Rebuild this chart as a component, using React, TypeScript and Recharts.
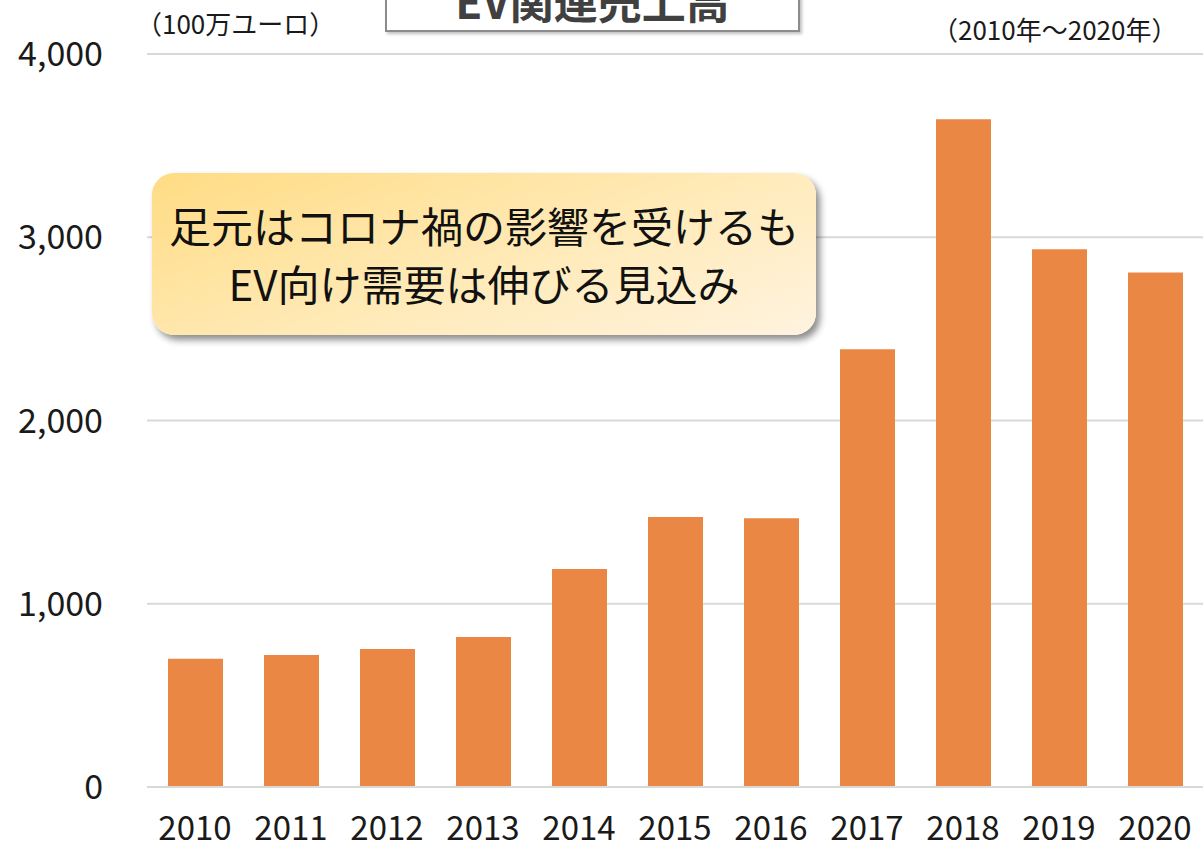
import { BarChart, Bar, XAxis, YAxis, CartesianGrid } from 'recharts';

const years = ['2010', '2011', '2012', '2013', '2014', '2015', '2016', '2017', '2018', '2019', '2020'];
const sales = [700, 720, 753, 818, 1189, 1473, 1467, 2389, 3644, 2935, 2808];
const yTicks = [0, 1000, 2000, 3000, 4000];

const FONT = '"Noto Sans CJK JP", "Noto Sans", sans-serif';

const data = years.map((year, i) => ({ year, sales: sales[i] }));

export default function App() {
  return (
    <div
      style={{
        position: 'absolute',
        left: 0,
        top: 0,
        width: 1204,
        height: 850,
        overflow: 'hidden',
        background: '#fff',
        fontFamily: FONT,
      }}
    >
      <BarChart
        width={1204}
        height={850}
        data={data}
        margin={{ top: 54, right: 1, bottom: 0, left: 0 }}
        barSize={55}
      >
        <CartesianGrid vertical={false} stroke="#d9d9d9" strokeWidth={2} />
        <XAxis
          dataKey="year"
          height={63}
          axisLine={{ stroke: '#d9d9d9', strokeWidth: 2 }}
          tickLine={false}
          tickSize={0}
          tickMargin={30}
          tick={{ fill: '#1a1a1a', fontSize: 33, fontFamily: FONT }}
          interval={0}
        />
        <YAxis
          width={147}
          domain={[0, 4000]}
          ticks={yTicks}
          axisLine={false}
          tickLine={false}
          tickSize={0}
          tickMargin={44}
          tickFormatter={(v: number) => v.toLocaleString('en-US')}
          tick={{ fill: '#1a1a1a', fontSize: 34, fontFamily: FONT }}
        />
        <Bar dataKey="sales" fill="#EA8744" isAnimationActive={false} />
      </BarChart>

      <div
        style={{
          position: 'absolute',
          left: 385,
          top: -32,
          width: 411,
          height: 60,
          border: '2px solid #8c8c8c',
          background: '#fff',
          boxShadow: '2px 2px 3px rgba(0,0,0,0.25)',
          textAlign: 'center',
          fontSize: 44,
          fontWeight: 700,
          lineHeight: '60px',
          color: '#404040',
        }}
      >
        EV関連売上高
      </div>

      <div style={{ position: 'absolute', left: 136, top: 4, fontSize: 26, color: '#1a1a1a', whiteSpace: 'nowrap' }}>
        （100万ユーロ）
      </div>
      <div style={{ position: 'absolute', left: 932, top: 10, fontSize: 26, color: '#1a1a1a', whiteSpace: 'nowrap' }}>
        （2010年～2020年）
      </div>

      <div
        style={{
          position: 'absolute',
          left: 152,
          top: 173,
          width: 664,
          height: 162,
          borderRadius: 22,
          background: 'linear-gradient(160deg, #ffdc84 0%, #ffeab8 55%, #fff3df 100%)',
          boxShadow: '4px 5px 7px rgba(0,0,0,0.45)',
          display: 'flex',
          flexDirection: 'column',
          justifyContent: 'center',
          alignItems: 'center',
          fontSize: 42,
          lineHeight: '58px',
          color: '#111',
          whiteSpace: 'nowrap',
        }}
      >
        <div>足元はコロナ禍の影響を受けるも</div>
        <div>EV向け需要は伸びる見込み</div>
      </div>
    </div>
  );
}
